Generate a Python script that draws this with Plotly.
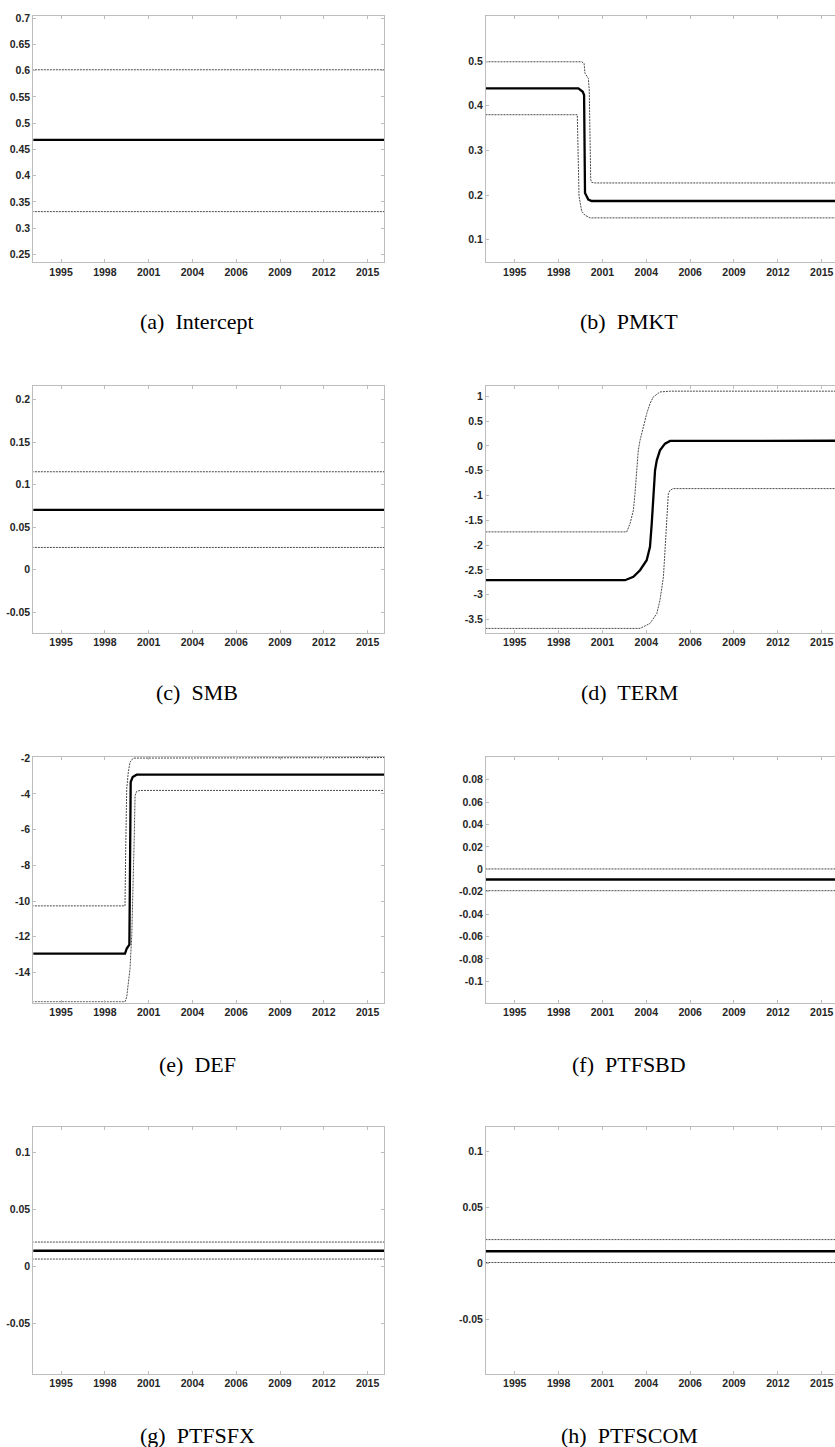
import plotly.graph_objects as go

# ---- shared time axis (observation index, labelled by year) ----
TICK_POS = [21, 54, 87, 120, 153, 186, 219, 252]
TICK_LABELS = ["1995", "1998", "2001", "2004", "2006", "2009", "2012", "2015"]
X_FIRST, X_LAST = -1, 266

# ---- (a) Intercept ----
a_x = [X_FIRST, X_LAST]
a_lower = [0.3315, 0.3315]
a_mid = [0.468, 0.468]
a_upper = [0.6015, 0.6015]
a_yticks = [0.25, 0.3, 0.35, 0.4, 0.45, 0.5, 0.55, 0.6, 0.65, 0.7]
a_yrange = [0.2354, 0.703]

# ---- (b) PMKT ----
b_upper_x = [X_FIRST, 71.4, 73.2, 73.9, 76.4, 77.1, 78.2, 78.9, 81.4, X_LAST]
b_upper = [0.4985, 0.4985, 0.4949, 0.4726, 0.4614, 0.4353, 0.2345, 0.2285, 0.2272, 0.2272]
b_mid_x = [X_FIRST, 68.9, 72.2, 73.2, 73.9, 76.4, 78.9, X_LAST]
b_mid = [0.4391, 0.4391, 0.4315, 0.4241, 0.2048, 0.1899, 0.1868, 0.1868]
b_lower_x = [X_FIRST, 68.1, 69.4, 71.4, 73.9, 77.7, X_LAST]
b_lower = [0.3800, 0.3800, 0.1973, 0.1638, 0.1549, 0.1490, 0.1490]
b_yticks = [0.1, 0.2, 0.3, 0.4, 0.5]
b_yrange = [0.05, 0.6]

# ---- (c) SMB ----
c_x = [X_FIRST, X_LAST]
c_lower = [0.0262, 0.0262]
c_mid = [0.0703, 0.0703]
c_upper = [0.1152, 0.1152]
c_yticks = [-0.05, 0, 0.05, 0.1, 0.15, 0.2]
c_yrange = [-0.0742, 0.2156]

# ---- (d) TERM ----
d_upper_x = [X_FIRST, 105.3, 107.8, 110.3, 111.5, 112.8, 114.0, 115.3, 117.8,
             120.3, 122.8, 125.3, 130.3, 137.9, X_LAST]
d_upper = [-1.733, -1.733, -1.565, -1.297, -0.961, -0.491, -0.088, 0.113, 0.383,
           0.651, 0.853, 0.988, 1.089, 1.105, 1.105]
d_mid_x = [X_FIRST, 104.0, 110.3, 115.3, 120.3, 122.8, 124.1, 125.3, 126.6,
           127.9, 130.3, 134.1, 137.9, X_LAST]
d_mid = [-2.708, -2.708, -2.639, -2.506, -2.304, -2.035, -1.565, -0.961, -0.491,
         -0.290, -0.088, 0.047, 0.101, 0.105]
d_lower_x = [X_FIRST, 115.3, 122.8, 127.9, 130.3, 132.9, 134.1, 135.4, 136.6,
             137.9, 140.3, X_LAST]
d_lower = [-3.68, -3.68, -3.58, -3.38, -3.11, -2.64, -2.10, -1.43, -0.96,
           -0.894, -0.86, -0.86]
d_yticks = [-3.5, -3, -2.5, -2, -1.5, -1, -0.5, 0, 0.5, 1]
d_yrange = [-3.769, 1.2016]

# ---- (e) DEF ----
e_upper_x = [X_FIRST, 69.2, 69.7, 70.5, 71.7, 73.0, 75.5, X_LAST]
e_upper = [-10.27, -10.27, -7.25, -3.71, -2.78, -2.22, -2.0, -1.97]
e_mid_x = [X_FIRST, 69.2, 70.5, 72.5, 73.5, 75.0, 78.0, X_LAST]
e_mid = [-12.94, -12.94, -12.66, -12.44, -3.34, -3.06, -2.93, -2.93]
e_lower_x = [X_FIRST, 69.2, 70.5, 71.7, 73.0, 74.3, 75.5, 76.2, 76.8, 78.0, 80.5, X_LAST]
e_lower = [-15.64, -15.64, -15.36, -14.71, -13.78, -11.91, -9.12, -6.32, -4.09,
           -3.86, -3.81, -3.81]
e_yticks = [-14, -12, -10, -8, -6, -4, -2]
e_yrange = [-15.68, -1.944]

# ---- (f) PTFSBD ----
f_x = [X_FIRST, X_LAST]
f_lower = [-0.0191, -0.0191]
f_mid = [-0.0091, -0.0091]
f_upper = [0.0003, 0.0003]
f_yticks = [-0.1, -0.08, -0.06, -0.04, -0.02, 0, 0.02, 0.04, 0.06, 0.08]
f_yrange = [-0.1189, 0.1001]

# ---- (g) PTFSFX ----
g_x = [X_FIRST, X_LAST]
g_lower = [0.0064, 0.0064]
g_mid = [0.0137, 0.0137]
g_upper = [0.0213, 0.0213]
g_yticks = [-0.05, 0, 0.05, 0.1]
g_yrange = [-0.094, 0.1221]

# ---- (h) PTFSCOM ----
h_x = [X_FIRST, X_LAST]
h_lower = [0.0006, 0.0006]
h_mid = [0.0107, 0.0107]
h_upper = [0.0211, 0.0211]
h_yticks = [-0.05, 0, 0.05, 0.1]
h_yrange = [-0.0987, 0.1217]

CAPTIONS = ["(a)\u00a0 Intercept", "(b)\u00a0 PMKT", "(c)\u00a0 SMB", "(d)\u00a0 TERM",
            "(e)\u00a0 DEF", "(f)\u00a0 PTFSBD", "(g)\u00a0 PTFSFX", "(h)\u00a0 PTFSCOM"]

panels = [
    dict(lower=(a_x, a_lower), mid=(a_x, a_mid), upper=(a_x, a_upper), yt=a_yticks, yr=a_yrange),
    dict(lower=(b_lower_x, b_lower), mid=(b_mid_x, b_mid), upper=(b_upper_x, b_upper), yt=b_yticks, yr=b_yrange),
    dict(lower=(c_x, c_lower), mid=(c_x, c_mid), upper=(c_x, c_upper), yt=c_yticks, yr=c_yrange),
    dict(lower=(d_lower_x, d_lower), mid=(d_mid_x, d_mid), upper=(d_upper_x, d_upper), yt=d_yticks, yr=d_yrange),
    dict(lower=(e_lower_x, e_lower), mid=(e_mid_x, e_mid), upper=(e_upper_x, e_upper), yt=e_yticks, yr=e_yrange),
    dict(lower=(f_x, f_lower), mid=(f_x, f_mid), upper=(f_x, f_upper), yt=f_yticks, yr=f_yrange),
    dict(lower=(g_x, g_lower), mid=(g_x, g_mid), upper=(g_x, g_upper), yt=g_yticks, yr=g_yrange),
    dict(lower=(h_x, h_lower), mid=(h_x, h_mid), upper=(h_x, h_upper), yt=h_yticks, yr=h_yrange),
]

# ---- page geometry (pixels) ----
W, H = 835, 1447
COL_X = [(33.3, 384.3), (486.0, 835.0)]
COL_XRANGE = [[0.1, 264.6], [-0.6, 262.0]]
ROW_Y = [(11.5, 258.0), (382.7, 630.0), (754.7, 1001.0), (1126.0, 1373.3)]
CAPTION_Y = [318, 690, 1063, 1435]
CAPTION_X = [197, 629]

FRAME = "#bdbdbd"
TICKFONT = dict(family="Liberation Sans Narrow, Arial Narrow, Liberation Sans, Arial",
                size=10.5, color="#262626", weight="bold")


def fmt(v):
    s = f"{round(v, 6):g}"
    return "0" if s in ("-0", "0") else s


fig = go.Figure()
layout = dict(width=W, height=H, margin=dict(l=0, r=0, t=0, b=0),
              paper_bgcolor="white", plot_bgcolor="white", showlegend=False,
              annotations=[])

for i, p in enumerate(panels):
    row, col = divmod(i, 2)
    n = "" if i == 0 else str(i + 1)
    xa, ya = "x" + n, "y" + n
    x0, x1 = COL_X[col]
    ytop, ybot = ROW_Y[row]

    for key in ("upper", "lower"):
        xs, ys = p[key]
        fig.add_trace(go.Scatter(x=xs, y=ys, mode="lines", xaxis=xa, yaxis=ya,
                                 line=dict(color="#4a4a4a", width=1, dash="2px,1px"),
                                 hoverinfo="skip"))
    xs, ys = p["mid"]
    fig.add_trace(go.Scatter(x=xs, y=ys, mode="lines", xaxis=xa, yaxis=ya,
                             line=dict(color="black", width=2.3), hoverinfo="skip"))

    layout["xaxis" + n] = dict(
        domain=[x0 / W, x1 / W], range=COL_XRANGE[col], anchor=ya,
        tickmode="array", tickvals=TICK_POS, ticktext=TICK_LABELS,
        ticks="inside", ticklen=3, tickwidth=1, tickcolor=FRAME,
        showline=True, linecolor=FRAME, linewidth=1, mirror="ticks",
        showgrid=False, zeroline=False, tickfont=TICKFONT, fixedrange=True)
    layout["yaxis" + n] = dict(
        domain=[1 - ybot / H, 1 - ytop / H], range=p["yr"], anchor=xa,
        tickmode="array", tickvals=p["yt"], ticktext=[fmt(v) for v in p["yt"]],
        ticks="inside", ticklen=3, tickwidth=1, tickcolor=FRAME,
        showline=True, linecolor=FRAME, linewidth=1,
        mirror="ticks" if col == 0 else False,
        showgrid=False, zeroline=False, tickfont=TICKFONT, fixedrange=True)

    layout["annotations"].append(dict(
        text=CAPTIONS[i], xref="paper", yref="paper",
        x=CAPTION_X[col] / W, y=1 - CAPTION_Y[row] / H,
        xanchor="center", yanchor="middle", showarrow=False,
        font=dict(family="Liberation Serif, Times New Roman, serif", size=22, color="black")))

fig.update_layout(**layout)
fig.write_html("out.html")
